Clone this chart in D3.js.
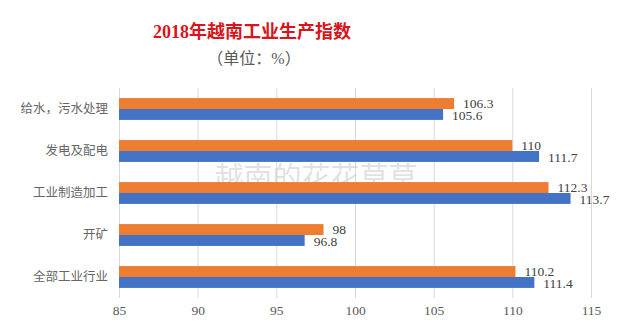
<!DOCTYPE html>
<html><head><meta charset="utf-8">
<script src="https://cdn.jsdelivr.net/npm/d3@7"></script>
<style>
html,body{margin:0;padding:0;background:#fff;}
svg{display:block;}
</style>
</head><body>
<svg id="c" width="640" height="324"></svg>
<script>
const categories = ["给水，污水处理", "发电及配电", "工业制造加工", "开矿", "全部工业行业"];
const seriesOrange = [106.3, 110, 112.3, 98, 110.2];
const seriesBlue = [105.6, 111.7, 113.7, 96.8, 111.4];
const tickValues = [85, 90, 95, 100, 105, 110, 115];
const title = "2018年越南工业生产指数";
const subtitle = "（单位：%）";
const watermark = "越南的花花草草";

const svg = d3.select("#c");
const W = 640, H = 324;
const margin = {left: 119, right: 49, top: 88, bottom: 26};
const x = d3.scaleLinear().domain([85, 115]).range([margin.left, W - margin.right]);
const y = d3.scaleBand().domain(categories).range([margin.top, H - margin.bottom]).paddingInner(0.48).paddingOuter(0.24);
const sub = d3.scaleBand().domain(["o", "b"]).range([0, y.bandwidth()]);

const serif = "'Liberation Serif','DejaVu Serif','Noto Sans CJK SC',serif";
const cjk = "'Noto Sans CJK SC','Noto Sans',sans-serif";

// title
svg.append("text").attr("x", 252).attr("y", 38).attr("text-anchor", "middle")
  .attr("font-family", serif).attr("font-size", 18).attr("font-weight", "bold")
  .attr("fill", "#d9141b").text(title);
svg.append("text").attr("x", 254).attr("y", 64).attr("text-anchor", "middle")
  .attr("font-family", serif).attr("font-size", 16)
  .attr("fill", "#595959").text(subtitle);

// gridlines
const xAxis = d3.axisBottom(x).tickValues(tickValues).tickSize(-(H - margin.bottom - margin.top)).tickFormat(d3.format("d"));
const gx = svg.append("g").attr("transform", `translate(0,${H - margin.bottom})`).call(xAxis);
gx.select(".domain").remove();
gx.selectAll(".tick line").attr("stroke", "#d9d9d9").attr("stroke-width", 1);
gx.selectAll(".tick text").attr("fill", "#595959").attr("font-family", serif).attr("font-size", 13.5).attr("dy", "1.0em");

// watermark
svg.append("text").attr("x", 316).attr("y", 188).attr("text-anchor", "middle")
  .attr("font-family", cjk).attr("font-size", 29)
  .attr("fill", "#c8c8c8").attr("fill-opacity", 0.55).text(watermark);

// category labels
const gy = svg.append("g").attr("transform", `translate(${margin.left},0)`)
  .call(d3.axisLeft(y).tickSize(0).tickPadding(11));
gy.select(".domain").remove();
gy.selectAll(".tick text").attr("fill", "#666666").attr("font-family", cjk).attr("font-size", 12.5);

// bars
const rows = categories.map((c, i) => ({c, o: seriesOrange[i], b: seriesBlue[i]}));
const g = svg.append("g");
g.selectAll("rect.o").data(rows).join("rect").attr("class", "o")
  .attr("x", x(85)).attr("y", d => y(d.c) + sub("o"))
  .attr("width", d => x(d.o) - x(85)).attr("height", sub.bandwidth())
  .attr("fill", "#ED7D31");
g.selectAll("rect.b").data(rows).join("rect").attr("class", "b")
  .attr("x", x(85)).attr("y", d => y(d.c) + sub("b"))
  .attr("width", d => x(d.b) - x(85)).attr("height", sub.bandwidth())
  .attr("fill", "#4472C4");

// value labels
const fmt = v => String(v);
g.selectAll("text.o").data(rows).join("text").attr("class", "o")
  .attr("x", d => x(d.o) + 9).attr("y", d => y(d.c) + sub("o") + sub.bandwidth() / 2 - 0.5)
  .attr("dy", "0.35em").attr("font-family", serif).attr("font-size", 13.5).attr("fill", "#404040")
  .text(d => fmt(d.o));
g.selectAll("text.b").data(rows).join("text").attr("class", "b")
  .attr("x", d => x(d.b) + 9).attr("y", d => y(d.c) + sub("b") + sub.bandwidth() / 2 + 0.5)
  .attr("dy", "0.35em").attr("font-family", serif).attr("font-size", 13.5).attr("fill", "#404040")
  .text(d => fmt(d.b));
</script>
</body></html>
